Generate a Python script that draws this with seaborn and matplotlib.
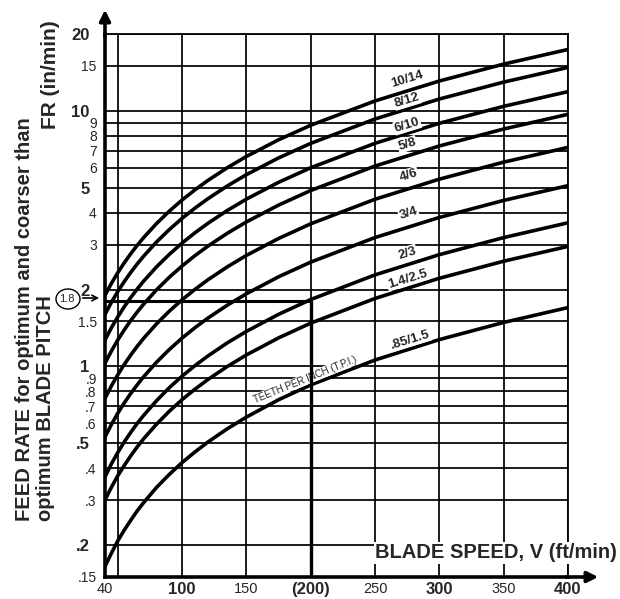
import matplotlib
matplotlib.use("Agg")
import matplotlib.pyplot as plt
import seaborn as sns
import pandas as pd
from matplotlib.patches import Ellipse

# ---------------- data ----------------
speeds = [40, 45, 50, 55, 60, 65, 70, 80, 90, 100, 110, 120, 135, 150, 175, 200, 250, 300, 350, 400]
tpi_labels = ["10/14", "8/12", "6/10", "5/8", "4/6", "3/4", "2/3", "1.4/2.5", ".85/1.5"]
fr_10_14 = [1.900, 2.115, 2.331, 2.546, 2.761, 2.977, 3.192, 3.622, 4.053, 4.484, 4.914, 5.345, 5.991, 6.637, 7.713, 8.790, 10.943, 13.096, 15.249, 17.40]
fr_8_12 = [1.600, 1.783, 1.967, 2.150, 2.333, 2.517, 2.700, 3.067, 3.433, 3.800, 4.167, 4.533, 5.083, 5.633, 6.550, 7.467, 9.300, 11.133, 12.967, 14.80]
fr_6_10 = [1.270, 1.418, 1.565, 1.713, 1.861, 2.008, 2.156, 2.451, 2.746, 3.042, 3.337, 3.632, 4.075, 4.518, 5.256, 5.994, 7.471, 8.947, 10.424, 11.90]
fr_5_8 = [1.030, 1.150, 1.271, 1.391, 1.512, 1.632, 1.752, 1.993, 2.234, 2.475, 2.716, 2.957, 3.318, 3.679, 4.281, 4.883, 6.087, 7.292, 8.496, 9.70]
fr_4_6 = [0.750, 0.840, 0.929, 1.019, 1.108, 1.198, 1.288, 1.467, 1.646, 1.825, 2.004, 2.183, 2.452, 2.721, 3.169, 3.617, 4.513, 5.408, 6.304, 7.20]
fr_3_4 = [0.530, 0.593, 0.657, 0.720, 0.784, 0.847, 0.911, 1.038, 1.165, 1.292, 1.419, 1.546, 1.736, 1.926, 2.244, 2.561, 3.196, 3.830, 4.465, 5.10]
fr_2_3 = [0.370, 0.416, 0.461, 0.507, 0.552, 0.598, 0.643, 0.734, 0.826, 0.917, 1.008, 1.099, 1.236, 1.372, 1.600, 1.828, 2.283, 2.739, 3.194, 3.65]
fr_14_25 = [0.300, 0.337, 0.374, 0.410, 0.447, 0.484, 0.521, 0.594, 0.668, 0.742, 0.815, 0.889, 0.999, 1.110, 1.294, 1.478, 1.846, 2.214, 2.582, 2.95]
fr_085_15 = [0.165, 0.186, 0.208, 0.229, 0.250, 0.272, 0.293, 0.336, 0.378, 0.421, 0.463, 0.506, 0.570, 0.634, 0.741, 0.847, 1.060, 1.274, 1.487, 1.70]
fr_series = [fr_10_14, fr_8_12, fr_6_10, fr_5_8, fr_4_6, fr_3_4, fr_2_3, fr_14_25, fr_085_15]

ref_speed = 200
ref_fr = 1.8

y_major_ticks = [0.2, 0.5, 1, 2, 5, 10, 20]
y_major_labels = [".2", ".5", "1", "2", "5", "10", "20"]
y_minor_ticks = [0.15, 0.3, 0.4, 0.6, 0.7, 0.8, 0.9, 1.5, 3, 4, 6, 7, 8, 9, 15]
y_minor_labels = [".15", ".3", ".4", ".6", ".7", ".8", ".9", "1.5", "3", "4", "6", "7", "8", "9", "15"]
x_major_ticks = [100, 200, 300, 400]
x_major_labels = ["100", "(200)", "300", "400"]
x_minor_ticks = [40, 150, 250, 350]
x_minor_labels = ["40", "150", "250", "350"]
x_extra_grid = [50]

# label placement (layout)
label_pos = [(275, 13.3), (275, 11.0), (275, 8.8), (275, 7.4), (276, 5.6),
             (276, 3.97), (275, 2.78), (275, 2.2), (277, 1.27)]

# ---------------- figure ----------------
sns.set_style("white")
plt.rcParams['font.family'] = ['Liberation Sans', 'DejaVu Sans']

W, H = 620, 599
fig = plt.figure(figsize=(W / 100, H / 100), dpi=100)
ax = fig.add_axes([105 / W, 22 / H, 463 / W, 543 / H])

rows = []
for lab, vals in zip(tpi_labels, fr_series):
    for v, f in zip(speeds, vals):
        rows.append({"speed": v, "fr": f, "tpi": lab})
df = pd.DataFrame(rows)

sns.lineplot(data=df, x="speed", y="fr", hue="tpi", hue_order=tpi_labels,
             palette=["black"] * len(tpi_labels), estimator=None, linewidth=2.6,
             legend=False, ax=ax, zorder=3)

ax.set_yscale("log")
ax.set_xlim(40, 400)
ax.set_ylim(0.15, 20)
ax.set_xlabel("")
ax.set_ylabel("")

ax.set_yticks(y_major_ticks)
ax.set_yticklabels(y_major_labels, fontweight="bold", fontsize=12)
ax.set_yticks(y_minor_ticks, minor=True)
ax.set_yticklabels(y_minor_labels, minor=True, fontsize=10)
ax.set_xticks(x_major_ticks)
ax.set_xticklabels(x_major_labels, fontweight="bold", fontsize=12)
ax.set_xticks(x_minor_ticks, minor=True)
ax.set_xticklabels(x_minor_labels, minor=True, fontsize=10.5)

ax.tick_params(axis="y", which="major", direction="out", length=9, width=1.2, pad=2, color="black")
ax.tick_params(axis="y", which="minor", direction="out", length=4, width=1.2, pad=2, color="black")
ax.tick_params(axis="x", which="both", direction="out", length=3, width=1.2, pad=0.5, color="black")

ax.set_axisbelow(True)
ax.grid(True, which="both", axis="both", color="black", linewidth=1.25)
for xv in x_extra_grid:
    ax.axvline(xv, color="black", linewidth=1.25, zorder=1)

for side in ["left", "bottom"]:
    ax.spines[side].set_linewidth(2.6)
    ax.spines[side].set_color("black")
for side in ["top", "right"]:
    ax.spines[side].set_linewidth(1.3)
    ax.spines[side].set_color("black")

# reference example lines (1.8 in/min at 200 ft/min)
ax.plot([40, ref_speed], [ref_fr, ref_fr], color="black", linewidth=2.2, zorder=5)
ax.plot([ref_speed, ref_speed], [0.15, ref_fr], color="black", linewidth=2.4, zorder=5)

# curve labels
for lab, (vx, vy) in zip(tpi_labels, label_pos):
    ax.text(vx, vy, lab, rotation=17, ha="center", va="center", fontsize=9.5,
            fontweight="bold", zorder=4,
            bbox=dict(facecolor="white", edgecolor="none", pad=0.6))
ax.text(196, 0.89, "TEETH PER INCH (T.P.I.)", rotation=22, ha="center", va="center",
        fontsize=7, zorder=4,
        bbox=dict(facecolor="white", edgecolor="none", pad=0.4))

# axis arrows
ax.annotate("", xy=(0, (577 - 7) / 543), xycoords="axes fraction",
            xytext=(0, 0.99), textcoords="axes fraction",
            arrowprops=dict(arrowstyle="-|>", color="black", lw=2.6, mutation_scale=16),
            annotation_clip=False)
ax.annotate("", xy=((601 - 105) / 463, 0), xycoords="axes fraction",
            xytext=(0.99, 0), textcoords="axes fraction",
            arrowprops=dict(arrowstyle="-|>", color="black", lw=2.6, mutation_scale=16),
            annotation_clip=False)

# axis titles
fig.text(617 / W, 1 - 553 / H, "BLADE SPEED, V (ft/min)", ha="right", va="center",
         fontsize=14.5, fontweight="bold",
         bbox=dict(facecolor="white", edgecolor="none", pad=1))
fig.text(35 / W, 1 - 521 / H, "FEED RATE for optimum and coarser than\noptimum BLADE PITCH",
         rotation=90, ha="center", va="bottom", multialignment="left",
         fontsize=14.5, fontweight="bold", linespacing=1.15)
fig.text(50 / W, 1 - 75 / H, "FR (in/min)", rotation=90, ha="center", va="center",
         fontsize=15, fontweight="bold")

# circled 1.8 marker with arrow
fig.patches.append(Ellipse((68 / W, 1 - 299 / H), 24 / W, 20 / H, transform=fig.transFigure,
                           fill=False, edgecolor="black", linewidth=1.0))
fig.text(67 / W, 1 - 299 / H, "1.8", ha="center", va="center", fontsize=8)
ax.annotate("", xy=(102 / W, 1 - 298 / H), xycoords="figure fraction",
            xytext=(80 / W, 1 - 298 / H), textcoords="figure fraction",
            arrowprops=dict(arrowstyle="->", color="black", lw=1.2),
            annotation_clip=False)

fig.savefig("out.png", dpi=100)
